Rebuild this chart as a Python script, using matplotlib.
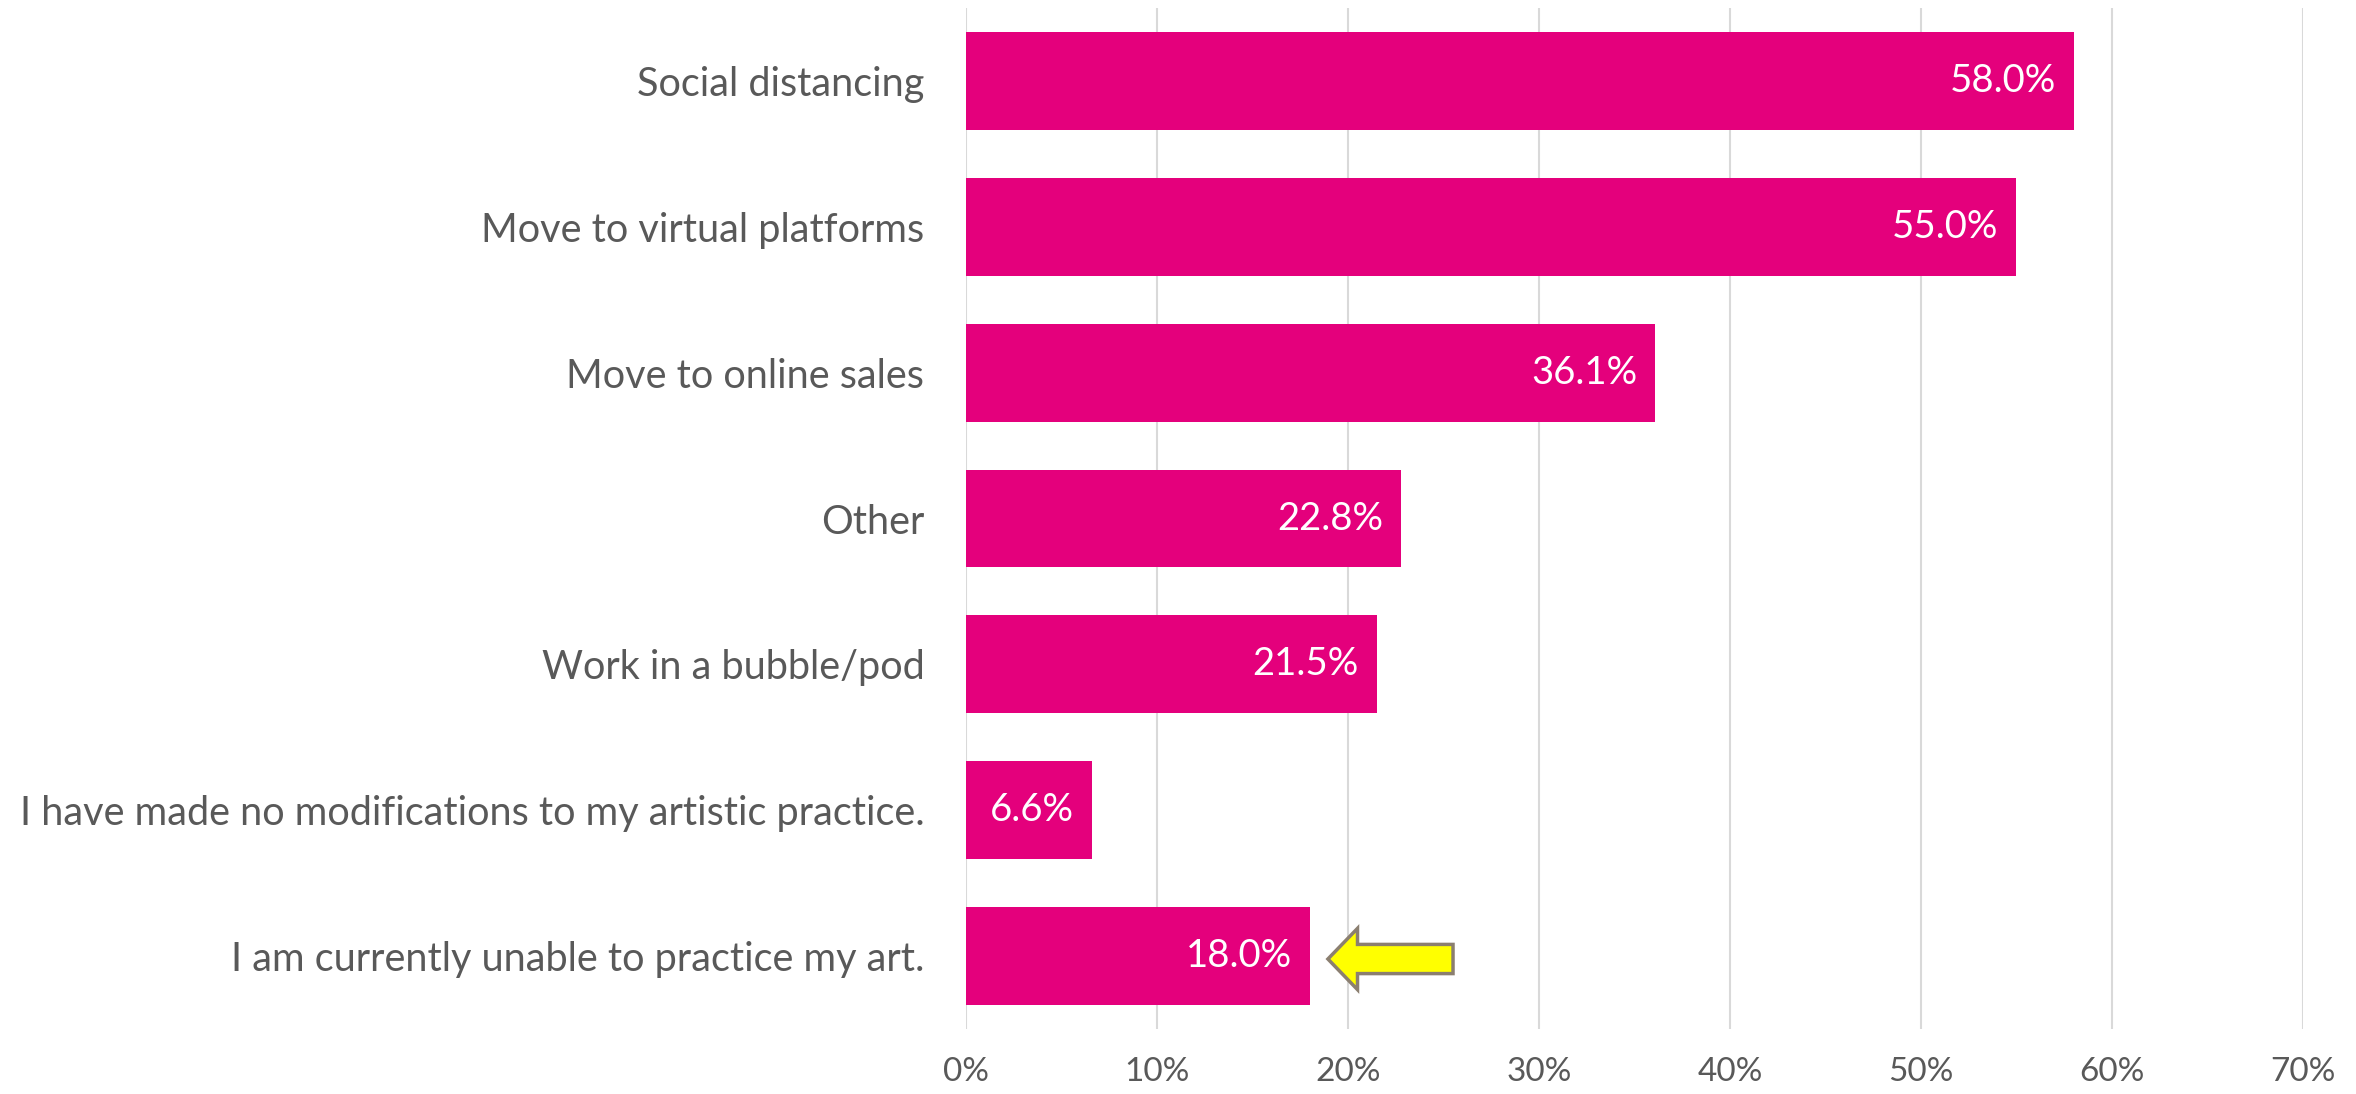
import matplotlib.pyplot as plt
import matplotlib.patches as mpatches
from matplotlib.ticker import FuncFormatter

# Survey responses: modifications made to artistic practice
categories = [
    "Social distancing",
    "Move to virtual platforms",
    "Move to online sales",
    "Other",
    "Work in a bubble/pod",
    "I have made no modifications to my artistic practice.",
    "I am currently unable to practice my art.",
]
shares = [58.0, 55.0, 36.1, 22.8, 21.5, 6.6, 18.0]
xticks = [0, 10, 20, 30, 40, 50, 60, 70]

BAR_COLOR = "#E4007C"
TEXT_COLOR = "#595959"
GRID_COLOR = "#D9D9D9"

plt.rcParams["font.family"] = ["Lato", "DejaVu Sans"]

fig = plt.figure(figsize=(23.56, 10.94), dpi=100)
ax = fig.add_axes([0.410, 0.0594, 0.5675, 0.9333])

ypos = list(range(len(categories)))
ax.barh(ypos, shares, height=0.67, color=BAR_COLOR, zorder=2)

ax.set_xlim(0, 70)
ax.set_ylim(len(categories) - 0.5, -0.5)
ax.set_xticks(xticks)
ax.xaxis.set_major_formatter(FuncFormatter(lambda v, _: f"{v:.0f}%"))
ax.set_yticks(ypos)
ax.set_yticklabels(categories)

ax.grid(axis="x", color=GRID_COLOR, linewidth=1.5, zorder=0)
for side in ax.spines.values():
    side.set_visible(False)
ax.tick_params(axis="both", length=0, labelcolor=TEXT_COLOR)
ax.tick_params(axis="x", labelsize=24, pad=20)
ax.tick_params(axis="y", labelsize=28.5, pad=30)

# value labels inside the bar ends
for y, v in zip(ypos, shares):
    ax.annotate(f"{v:.1f}%", xy=(v, y), xytext=(-13, 0), textcoords="offset points",
                ha="right", va="center", color="white", fontsize=27.5, zorder=3)

# yellow arrow pointing at the last bar
last = len(categories) - 1
tip = shares[last] + 0.95
arrow = mpatches.FancyArrow(tip + 6.55, last + 0.02, -6.55, 0, width=0.2,
                            head_width=0.42, head_length=1.55,
                            length_includes_head=True,
                            facecolor="#FFFF00", edgecolor="#8B7F70",
                            linewidth=2.5, zorder=4)
ax.add_patch(arrow)

fig.savefig("out.png", dpi=100)
